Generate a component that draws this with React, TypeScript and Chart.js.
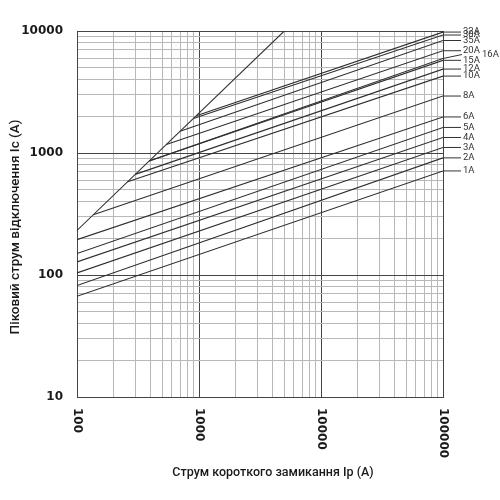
import { useEffect, useRef } from "react";
import { Chart, registerables } from "chart.js";

Chart.register(...registerables);

// fuse ratings, in the order of the labels at the right edge (bottom to top)
const ratings = ["1A", "2A", "3A", "4A", "5A", "6A", "8A", "10A", "12A", "15A", "16A", "20A", "35A", "30A", "32A"];
// where each let-through line starts (prospective current Ip, peak current Ic)
const startIp = [100, 100, 100, 100, 100, 100, 136, 260, 300, 390, 390, 540, 700, 900, 950];
const startIc = [67, 82, 104, 128, 150, 195, 312, 582, 668, 859, 859, 1175, 1509, 1921, 2023];
// peak current at the right edge
const endIp = 100000;
const endIc = [713, 912, 1110, 1340, 1620, 1975, 2930, 4270, 4875, 5750, 5950, 6892, 8357, 9270, 9800];

// unlimited peak current line
const diagIp = [100, 5000];
const diagIc = [232, 10000];

const xLabels = [100, 1000, 10000, 100000];
const yLabels = [10, 100, 1000, 10000];

const xTitle = "Струм короткого замикання Ip (A)";
const yTitle = "Піковий струм відключення Ic (A)";

const logTicks = (min: number, max: number) => {
  const out: { value: number }[] = [];
  for (let d = min; d < max; d *= 10) {
    for (let k = 1; k < 10; k++) out.push({ value: d * k });
  }
  out.push({ value: max });
  return out;
};

const isDecade = (v: number) => Math.abs(Math.log10(v) - Math.round(Math.log10(v))) < 1e-9;

const gridColor = (ctx: any) => (ctx.tick && isDecade(ctx.tick.value) ? "#444" : "#b8b8b8");

const annotate = {
  id: "annotate",
  afterDraw(chart: any) {
    const { ctx, chartArea } = chart;
    const x = chart.scales.x;
    const y = chart.scales.y;
    ctx.save();
    ctx.fillStyle = "#1a1a1a";

    // x tick labels, turned to read downwards
    ctx.font = "bold 12px 'DejaVu Sans'";
    ctx.textAlign = "left";
    ctx.textBaseline = "middle";
    xLabels.forEach((v) => {
      ctx.save();
      ctx.translate(x.getPixelForValue(v), chartArea.bottom + 11);
      ctx.rotate(Math.PI / 2);
      ctx.fillText(String(v), 0, 0);
      ctx.restore();
    });

    // axis titles
    ctx.textAlign = "center";
    ctx.font = "500 12.5px Roboto";
    ctx.fillText(xTitle, 273, 473);
    ctx.save();
    ctx.translate(16, 227);
    ctx.rotate(-Math.PI / 2);
    ctx.font = "500 13.5px Roboto";
    ctx.fillText(yTitle, 0, 0);
    ctx.restore();

    // rating labels with leaders
    ctx.font = "9.5px Roboto";
    ctx.fillStyle = "#333";
    ctx.strokeStyle = "#333";
    ctx.lineWidth = 1;
    ctx.textAlign = "left";
    ratings.forEach((r, i) => {
      const px = x.getPixelForValue(endIp);
      const py = y.getPixelForValue(endIc[i]);
      const shifted = r === "16A";
      const ty = shifted ? py - 4 : py;
      ctx.beginPath();
      ctx.moveTo(px, py);
      ctx.lineTo(px + (shifted ? 19 : 18), ty);
      ctx.stroke();
      ctx.fillText(r, px + (shifted ? 39 : 20), ty);
    });
    ctx.restore();
  },
};

const App = () => {
  const chartRef = useRef<HTMLCanvasElement>(null);
  useEffect(() => {
    const datasets: any[] = [
      {
        label: "Ip",
        data: diagIp.map((v, i) => ({ x: v, y: diagIc[i] })),
        borderColor: "#333",
        borderWidth: 1.1,
        pointRadius: 0,
      },
      ...ratings.map((r, i) => ({
        label: r,
        data: [
          { x: startIp[i], y: startIc[i] },
          { x: endIp, y: endIc[i] },
        ],
        borderColor: "#2e2e2e",
        borderWidth: 1.1,
        pointRadius: 0,
      })),
    ];

    const chart = new Chart(chartRef.current!, {
      type: "line",
      data: { datasets },
      plugins: [annotate],
      options: {
        animation: false,
        responsive: true,
        maintainAspectRatio: false,
        layout: { padding: { top: 31, right: 57, left: 0, bottom: 0 } },
        plugins: { legend: { display: false }, tooltip: { enabled: false } },
        scales: {
          x: {
            type: "logarithmic",
            min: 100,
            max: 100000,
            afterBuildTicks: (s: any) => {
              s.ticks = logTicks(100, 100000);
            },
            afterFit: (s: any) => {
              s.height = 103;
            },
            ticks: { display: false, autoSkip: false },
            grid: { color: gridColor, lineWidth: 1, drawTicks: false },
            border: { color: "#444", width: 1 },
          },
          y: {
            type: "logarithmic",
            min: 10,
            max: 10000,
            afterBuildTicks: (s: any) => {
              s.ticks = logTicks(10, 10000);
            },
            afterFit: (s: any) => {
              s.width = 77;
            },
            ticks: {
              autoSkip: false,
              padding: 14,
              color: "#1a1a1a",
              font: { family: "'DejaVu Sans'", size: 12, weight: "bold" },
              callback: (value: any) => (yLabels.includes(Number(value)) ? String(value) : ""),
            },
            grid: { color: gridColor, lineWidth: 1, drawTicks: false },
            border: { color: "#444", width: 1 },
          },
        },
      },
    });
    return () => {
      chart.destroy();
    };
  }, []);

  return (
    <div style={{ position: "fixed", left: 0, top: 0, width: 500, height: 500, background: "#fff" }}>
      <canvas ref={chartRef} />
    </div>
  );
};

export default App;
